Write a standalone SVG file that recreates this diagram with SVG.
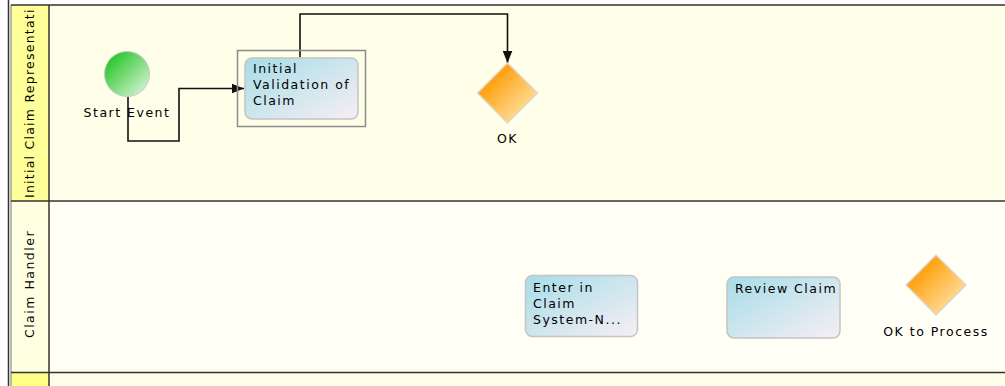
<svg xmlns="http://www.w3.org/2000/svg" width="1005" height="386" viewBox="0 0 1005 386">
<style>
text{font-family:"DejaVu Sans","Liberation Sans",sans-serif;font-size:12.5px;letter-spacing:1.5px;fill:#000}
.task{stroke:#c4c4c4;stroke-width:1.5;fill:url(#gTask)}
.gw{stroke:#e0d8c8;stroke-width:1.5;fill:url(#gGw)}
.conn{fill:none;stroke:#111;stroke-width:1.6}
.lane{stroke:#333;stroke-width:1.5}
</style>
<defs>
<linearGradient id="gTask" x1="0" y1="0" x2="1" y2="1">
<stop offset="0" stop-color="#a6dde8"/>
<stop offset="1" stop-color="#f7eef4"/>
</linearGradient>
<linearGradient id="gGw" x1="0" y1="0" x2="1" y2="1">
<stop offset="0.2" stop-color="#ff9a00"/>
<stop offset="1" stop-color="#fff3c8"/>
</linearGradient>
<linearGradient id="gStart" x1="0" y1="0" x2="1" y2="1">
<stop offset="0.1" stop-color="#22c422"/>
<stop offset="1" stop-color="#e6f8e6"/>
</linearGradient>
<marker id="arr2" viewBox="0 0 10 10" refX="10" refY="5" markerWidth="12" markerHeight="12" markerUnits="userSpaceOnUse" orient="auto">
<path d="M0,1 L10,5 L0,9 z" fill="#111"/>
</marker>
</defs>
<rect width="1005" height="386" fill="#ffffff"/>
<g id="lane1">
<rect x="49" y="5" width="956" height="196" fill="#fffee8"/>
<rect x="11" y="5" width="38" height="196" fill="#ffff99"/>
<text transform="translate(34,198) rotate(-90)" textLength="190" lengthAdjust="spacing">Initial Claim Representati</text>
</g>
<g id="lane2">
<rect x="49" y="201" width="956" height="171" fill="#fffff6"/>
<rect x="11" y="201" width="38" height="171" fill="#ffffe2"/>
<text text-anchor="middle" transform="translate(34,284) rotate(-90)">Claim Handler</text>
</g>
<g id="lane3">
<rect x="49" y="373" width="956" height="13" fill="#fffee8"/>
<rect x="11" y="373" width="38" height="13" fill="#ffff88"/>
</g>
<g id="lane-borders">
<line class="lane" x1="8.5" y1="0" x2="8.5" y2="386" stroke-width="2"/>
<line x1="11" y1="5" x2="11" y2="386" stroke="#777" stroke-width="1"/>
<line class="lane" x1="49" y1="5" x2="49" y2="386"/>
<line class="lane" x1="11" y1="5" x2="1005" y2="5"/>
<line class="lane" x1="11" y1="201" x2="1005" y2="201"/>
<line class="lane" x1="11" y1="372.5" x2="1005" y2="372.5"/>
</g>
<g id="connectors">
<path class="conn" d="M128,96 V141 H179 V88.5 H244" marker-end="url(#arr2)"/>
<path class="conn" d="M300,57 V14 H507.5 V63" marker-end="url(#arr2)"/>
</g>
<g id="start">
<circle cx="127" cy="74" r="22.5" fill="url(#gStart)" stroke="#c8c8c8" stroke-width="1"/>
<text x="127" y="117" text-anchor="middle">Start Event</text>
</g>
<g id="initialValidation">
<rect x="237.5" y="50.5" width="128" height="76" fill="none" stroke="#8c8c8c" stroke-width="1.5"/>
<rect class="task" x="245" y="58" width="113" height="61" rx="7"/>
<text x="253" y="73">Initial</text>
<text x="253" y="89">Validation of</text>
<text x="253" y="105">Claim</text>
</g>
<g id="ok">
<path class="gw" d="M507.5,63 L537.5,93 L507.5,123 L477.5,93 z"/>
<text x="507.5" y="143" text-anchor="middle">OK</text>
</g>
<g id="enterClaim">
<rect class="task" x="525.5" y="275.5" width="112" height="61" rx="7"/>
<text x="533" y="292">Enter in</text>
<text x="533" y="308">Claim</text>
<text x="533" y="324">System-N...</text>
</g>
<g id="reviewClaim">
<rect class="task" x="727" y="277" width="113" height="61" rx="7"/>
<text x="735" y="293">Review Claim</text>
</g>
<g id="okToProcess">
<path class="gw" d="M936,255 L966,285 L936,315 L906,285 z"/>
<text x="936" y="336" text-anchor="middle">OK to Process</text>
</g>
</svg>
